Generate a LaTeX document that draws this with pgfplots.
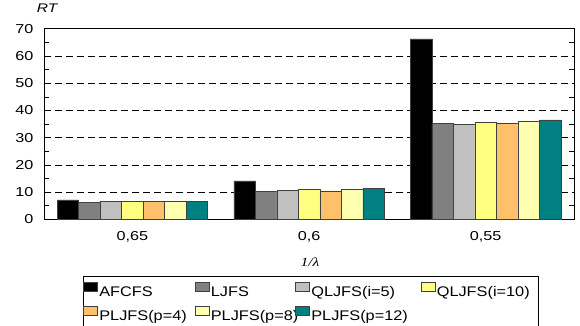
\documentclass[border=0pt]{standalone}
\usepackage{pgfplots}
\pgfplotsset{compat=1.18}
\usepackage{fontspec}
\setmainfont{Liberation Sans}
\newfontfamily\tickfont[FakeStretch=1.25]{Liberation Sans}
\newfontfamily\legfont[FakeStretch=1.17]{Liberation Sans}
\newfontfamily\labfont[FakeStretch=1.25]{Liberation Serif}
\definecolor{cGray}{HTML}{808080}
\definecolor{cSilver}{HTML}{C0C0C0}
\definecolor{cYellow}{HTML}{FFFF80}
\definecolor{cOrange}{HTML}{FFC06C}
\definecolor{cLY}{HTML}{FFFFB0}
\definecolor{cTeal}{HTML}{008080}
\pgfplotsset{
  mybar/.style={fill=#1, draw=black!75, line width=0.5bp,
    legend image code/.code={\draw[fill=#1, draw=black!75, line width=0.5bp] (0bp,0.8bp) rectangle (14bp,9.8bp);}},
}
\begin{document}
\begin{tikzpicture}
\useasboundingbox (0,0) rectangle (580bp,326bp);
\begin{axis}[
  at={(44bp,106.7bp)}, anchor=south west,
  scale only axis, width=530bp, height=190.6bp,
  ybar=0pt, bar width=0.1217,
  xmin=-0.5, xmax=2.5, ymin=0, ymax=70,
  xtick={0,1,2}, xticklabels={{0,65},{0,6},{0,55}},
  ytick={0,10,...,70}, minor y tick num=1,
  tick align=inside, major tick length=0bp, minor tick length=5bp,
  xtick style={draw=none},
  ytick style={black, line width=0.5bp},
  ymajorgrids, major grid style={black, dash pattern=on 7bp off 4bp, line width=0.6bp},
  axis line style={black, line width=0.6bp},
  /pgf/number format/assume math mode=true,
  tick label style={font=\tickfont\fontsize{13}{15}\selectfont},
  yticklabel style={xshift=-7bp},
  xticklabel style={yshift=-9bp},
  xlabel={\labfont\itshape 1/λ},
  xlabel style={at={(axis description cs:0.502,-0.2255)}, anchor=center, font=\fontsize{12.5}{14}\selectfont},
  ylabel={\tickfont\itshape RT},
  ylabel style={at={(axis description cs:0.006,1.108)}, rotate=-90, anchor=center, font=\fontsize{12.5}{14}\selectfont},
  legend columns=4,
  legend style={at={(axis description cs:0.0736,-0.2974)}, anchor=north west,
    draw=black, line width=0.6bp, font=\legfont\fontsize{14}{16}\selectfont,
    inner xsep=0pt, inner ysep=6bp, column sep=0pt, row sep=7bp,
    nodes={inner xsep=1.5bp, inner ysep=1bp}},
  legend cell align=left,
]
\addplot[mybar=black] coordinates {(0,7.1) (1,14.1) (2,66.3)};
\addlegendentry{\makebox[94bp][l]{AFCFS}}
\addplot[mybar=cGray] coordinates {(0,6.2) (1,10.3) (2,35.1)};
\addlegendentry{\makebox[83bp][l]{LJFS}}
\addplot[mybar=cSilver] coordinates {(0,6.5) (1,10.6) (2,35.0)};
\addlegendentry{\makebox[108bp][l]{QLJFS(i=5)}}
\addplot[mybar=cYellow] coordinates {(0,6.5) (1,10.9) (2,35.6)};
\addlegendentry{\makebox[100bp][l]{QLJFS(i=10)}}
\addplot[mybar=cOrange] coordinates {(0,6.5) (1,10.4) (2,35.3)};
\addlegendentry{\makebox[94bp][l]{PLJFS(p=4)}}
\addplot[mybar=cLY] coordinates {(0,6.5) (1,11.0) (2,36.1)};
\addlegendentry{\makebox[83bp][l]{PLJFS(p=8)}}
\addplot[mybar=cTeal] coordinates {(0,6.7) (1,11.4) (2,36.5)};
\addlegendentry{\makebox[108bp][l]{PLJFS(p=12)}}
\end{axis}
\end{tikzpicture}
\end{document}
